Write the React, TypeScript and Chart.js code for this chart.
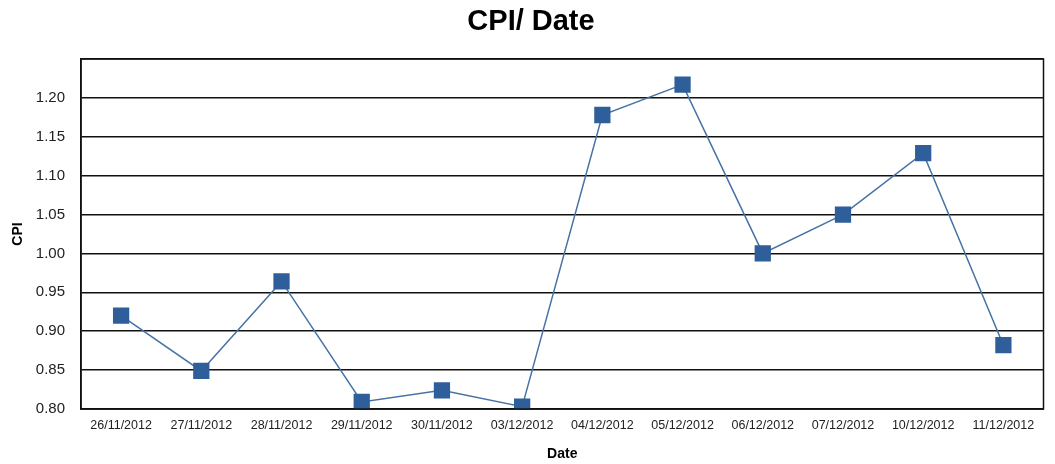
import React, { useEffect, useRef } from "react";
import { Chart, registerables } from "chart.js";

Chart.register(...registerables);

const categories = [
  "26/11/2012", "27/11/2012", "28/11/2012", "29/11/2012", "30/11/2012", "03/12/2012",
  "04/12/2012", "05/12/2012", "06/12/2012", "07/12/2012", "10/12/2012", "11/12/2012",
];
const cpiValues = [0.92, 0.849, 0.964, 0.809, 0.824, 0.803, 1.178, 1.217, 1.0, 1.05, 1.129, 0.882];
const yMin = 0.8;
const yMax = 1.25;
const yStep = 0.05;
const chartTitle = "CPI/ Date";

const FONT = "'Liberation Sans', Arial, sans-serif";

const borderPlugin = {
  id: "plotBorder",
  afterDraw(chart: any) {
    const { ctx, chartArea } = chart;
    ctx.save();
    ctx.strokeStyle = "#111";
    ctx.lineWidth = 1.5;
    ctx.strokeRect(chartArea.left, chartArea.top, chartArea.right - chartArea.left, chartArea.bottom - chartArea.top);
    ctx.restore();
  },
};

const titlePlugin = {
  id: "offsetTitle",
  afterDraw(chart: any) {
    const { ctx } = chart;
    ctx.save();
    ctx.fillStyle = "#000";
    ctx.font = `bold 29px ${FONT}`;
    ctx.textAlign = "center";
    ctx.textBaseline = "middle";
    ctx.fillText(chartTitle, 531, 22);
    ctx.restore();
  },
};

export default function App() {
  const ref = useRef<HTMLCanvasElement>(null);
  useEffect(() => {
    if (!ref.current) return;
    const chart = new Chart(ref.current, {
      type: "line",
      data: {
        labels: categories,
        datasets: [
          {
            label: "CPI",
            data: cpiValues,
            borderColor: "#4672A6",
            borderWidth: 1.5,
            backgroundColor: "#2F5F9B",
            pointStyle: "rect",
            pointRadius: 11.5,
            pointBorderWidth: 0,
            pointBackgroundColor: "#2F5F9B",
            pointBorderColor: "#2F5F9B",
            tension: 0,
          },
        ],
      },
      options: {
        animation: false,
        responsive: false,
        maintainAspectRatio: false,
        layout: { padding: { left: 0, right: 11, top: 59, bottom: 0 } },
        plugins: {
          legend: { display: false },
          tooltip: { enabled: false },
          title: { display: false },
        },
        scales: {
          x: {
            type: "category",
            offset: true,
            grid: { display: false, drawTicks: false },
            border: { display: true, color: "#111", width: 1.5 },
            ticks: {
              color: "#222",
              font: { family: FONT, size: 12.5 },
              padding: 9,
              maxRotation: 0,
              autoSkip: false,
            },
            title: {
              display: true,
              text: "Date",
              color: "#000",
              font: { family: FONT, size: 14, weight: "bold" },
              padding: { top: 0, bottom: 1 },
            },
            afterFit(scale: any) {
              scale.height = 55;
            },
          },
          y: {
            min: yMin,
            max: yMax,
            grid: { color: "#111", lineWidth: 1.5, drawTicks: false },
            border: { display: true, color: "#111", width: 1.5 },
            ticks: {
              stepSize: yStep,
              color: "#222",
              font: { family: FONT, size: 15 },
              padding: 16,
              callback: (v: any) => (Math.abs(Number(v) - yMax) < 1e-9 ? "" : Number(v).toFixed(2)),
            },
            title: {
              display: true,
              text: "CPI",
              color: "#000",
              font: { family: FONT, size: 14, weight: "bold" },
              padding: { top: 10, bottom: 4 },
            },
            afterFit(scale: any) {
              scale.width = 81;
            },
          },
        },
      },
      plugins: [borderPlugin, titlePlugin],
    } as any);
    return () => chart.destroy();
  }, []);
  return (
    <div style={{ position: "fixed", left: 0, top: 0, width: 1055, height: 464, background: "#fff" }}>
      <canvas ref={ref} width={1055} height={464} style={{ width: 1055, height: 464 }} />
    </div>
  );
}
